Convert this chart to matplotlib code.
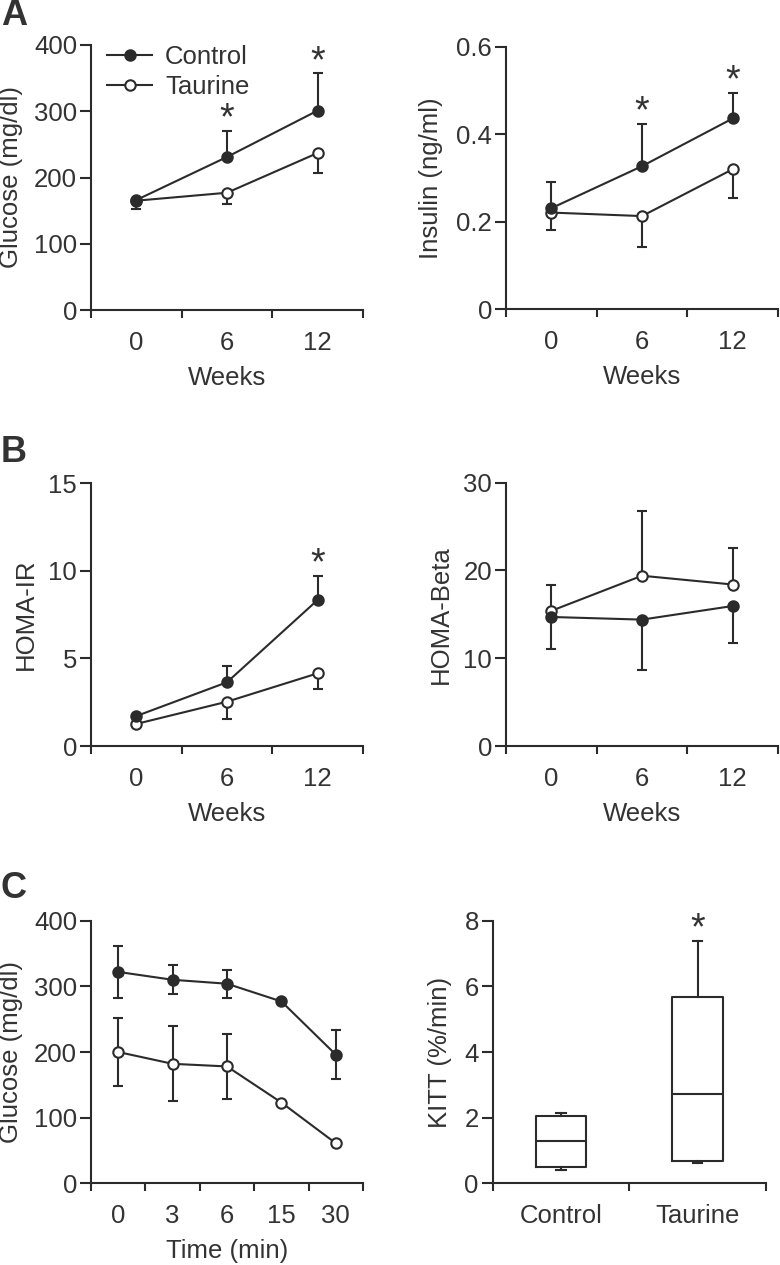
import numpy as np
import matplotlib
matplotlib.use("Agg")
import matplotlib.pyplot as plt

plt.rcParams['font.family'] = ['Liberation Sans', 'DejaVu Sans']
plt.rcParams['font.size'] = 18.5

INK = '#2b2b2b'
TXT = '#333333'

# ---- data ----
weeks = ['0', '6', '12']
minutes = ['0', '3', '6', '15', '30']
groups = ['Control', 'Taurine']

glu_ctrl = [166, 231, 301]
glu_ctrl_err = [0, 39, 56]          # upper bars only
glu_taur = [165, 177, 237]
glu_taur_err = [13, 17, 30]         # lower bars only

ins_ctrl = [0.231, 0.327, 0.436]
ins_ctrl_err = [0.060, 0.096, 0.059]
ins_taur = [0.221, 0.213, 0.320]
ins_taur_err = [0.040, 0.070, 0.066]

ir_ctrl = [1.71, 3.64, 8.34]
ir_ctrl_err = [0, 0.95, 1.37]
ir_taur = [1.26, 2.53, 4.15]
ir_taur_err = [0, 0.97, 0.88]

beta_ctrl = [14.7, 14.4, 15.95]
beta_ctrl_err = [3.6, 5.7, 4.2]     # lower bars only
beta_taur = [15.4, 19.4, 18.4]
beta_taur_err = [3.0, 7.4, 4.2]     # upper bars only

itt_ctrl = [322, 310, 304, 277, 196]
itt_ctrl_err = [39, 22, 21, 0, 37]
itt_taur = [200, 182, 178, 123, 61]
itt_taur_err = [52, 57, 49, 0, 0]

kitt_q1 = [0.49, 0.68]
kitt_med = [1.29, 2.72]
kitt_q3 = [2.06, 5.69]
kitt_lo = [0.41, 0.63]
kitt_hi = [2.13, 7.39]

W, H = 780, 1265


def rect(left, right, top, bottom):
    return [left / W, 1 - bottom / H, (right - left) / W, (bottom - top) / H]


def style(ax, xlabels, ylim, yticks, yticklabels, ylabel, label_x, xlabel):
    n = len(xlabels)
    ax.set_xlim(0, n)
    ax.set_ylim(*ylim)
    for s in ['top', 'right']:
        ax.spines[s].set_visible(False)
    for s in ['left', 'bottom']:
        ax.spines[s].set_linewidth(1.5)
        ax.spines[s].set_color(INK)
    ax.set_xticks(np.arange(n + 1))
    ax.set_xticklabels([])
    ax.set_xticks(np.arange(n) + 0.5, minor=True)
    ax.set_xticklabels(xlabels, minor=True)
    ax.tick_params(axis='x', which='major', length=6, width=1.5, color=INK)
    ax.tick_params(axis='x', which='minor', length=0, pad=15, colors=TXT)
    ax.set_yticks(yticks)
    ax.set_yticklabels(yticklabels)
    ax.tick_params(axis='y', length=8, width=1.5, pad=2, color=INK, labelcolor=TXT)
    ax.set_ylabel(ylabel, color=TXT)
    ax.yaxis.set_label_coords(label_x, 0.5)
    if xlabel:
        ax.set_xlabel(xlabel, color=TXT, labelpad=8)


def series(ax, y, lo, hi, filled, label=None):
    x = np.arange(len(y)) + 0.5
    ax.errorbar(x, y, yerr=[lo, hi], fmt='none', ecolor=INK, elinewidth=1.5,
                capsize=3.5, capthick=1.5, clip_on=False, zorder=2)
    ax.plot(x, y, '-o', color=INK, lw=1.5, ms=7.5, mew=1.5,
            mfc=INK if filled else 'white', mec=INK, label=label,
            clip_on=False, zorder=3)


def star(ax, i, top):
    ax.annotate('*', xy=(i + 0.5, top), xytext=(0, 1), textcoords='offset points',
                ha='center', va='baseline', fontsize=27, color=TXT)


fig = plt.figure(figsize=(W / 100, H / 100), dpi=100)
zero3 = [0, 0, 0]

# A left: glucose
ax = fig.add_axes(rect(91, 363, 45, 310))
series(ax, glu_taur, glu_taur_err, zero3, False, 'Taurine')
series(ax, glu_ctrl, zero3, glu_ctrl_err, True, 'Control')
style(ax, weeks, (0, 400), [0, 100, 200, 300, 400], ['0', '100', '200', '300', '400'],
      'Glucose (mg/dl)', -0.25, 'Weeks')
for i in [1, 2]:
    star(ax, i, glu_ctrl[i] + glu_ctrl_err[i])
h, l = ax.get_legend_handles_labels()
ax.legend(h[::-1], l[::-1], loc='upper left', bbox_to_anchor=(0.06, 1.0), frameon=False,
          handlelength=1.75, handletextpad=0.5, borderpad=0, borderaxespad=0,
          labelspacing=0.25, labelcolor=TXT)

# A right: insulin
ax = fig.add_axes(rect(506, 778, 46.7, 309.3))
series(ax, ins_taur, ins_taur_err, zero3, False)
series(ax, ins_ctrl, zero3, ins_ctrl_err, True)
style(ax, weeks, (0, 0.6), [0, 0.2, 0.4, 0.6], ['0', '0.2', '0.4', '0.6'],
      'Insulin (ng/ml)', -0.232, 'Weeks')
for i in [1, 2]:
    star(ax, i, ins_ctrl[i] + ins_ctrl_err[i])

# B left: HOMA-IR
ax = fig.add_axes(rect(91, 363, 483.3, 746))
series(ax, ir_taur, ir_taur_err, zero3, False)
series(ax, ir_ctrl, zero3, ir_ctrl_err, True)
style(ax, weeks, (0, 15), [0, 5, 10, 15], ['0', '5', '10', '15'],
      'HOMA-IR', -0.195, 'Weeks')
star(ax, 2, ir_ctrl[2] + ir_ctrl_err[2])

# B right: HOMA-Beta
ax = fig.add_axes(rect(506, 778, 482.7, 746))
series(ax, beta_taur, zero3, beta_taur_err, False)
series(ax, beta_ctrl, beta_ctrl_err, zero3, True)
style(ax, weeks, (0, 30), [0, 10, 20, 30], ['0', '10', '20', '30'],
      'HOMA-Beta', -0.195, 'Weeks')

# C left: insulin tolerance test
ax = fig.add_axes(rect(91, 363, 920.7, 1183.3))
series(ax, itt_taur, itt_taur_err, itt_taur_err, False)
series(ax, itt_ctrl, itt_ctrl_err, itt_ctrl_err, True)
style(ax, minutes, (0, 400), [0, 100, 200, 300, 400], ['0', '100', '200', '300', '400'],
      'Glucose (mg/dl)', -0.25, 'Time (min)')

# C right: KITT box plot
ax = fig.add_axes(rect(492.7, 766, 920.7, 1183.3))
stats = []
for k, g in enumerate(groups):
    stats.append(dict(label=g, q1=kitt_q1[k], med=kitt_med[k], q3=kitt_q3[k],
                      whislo=kitt_lo[k], whishi=kitt_hi[k]))
lp = dict(color=INK, linewidth=1.5)
ax.bxp(stats, positions=[0.5, 1.5], widths=0.37, capwidths=0.07, showfliers=False,
       boxprops=lp, whiskerprops=lp, capprops=lp, medianprops=lp, manage_ticks=False)
style(ax, groups, (0, 8), [0, 2, 4, 6, 8], ['0', '2', '4', '6', '8'],
      'KITT (%/min)', -0.149, None)
star(ax, 1, kitt_hi[1])

# panel letters
for letter, base in [('A', 25), ('B', 462), ('C', 898)]:
    fig.text(1 / W, 1 - base / H, letter, fontsize=26, fontweight='bold',
             color=TXT, ha='left', va='baseline')

fig.savefig('out.png', dpi=100)
